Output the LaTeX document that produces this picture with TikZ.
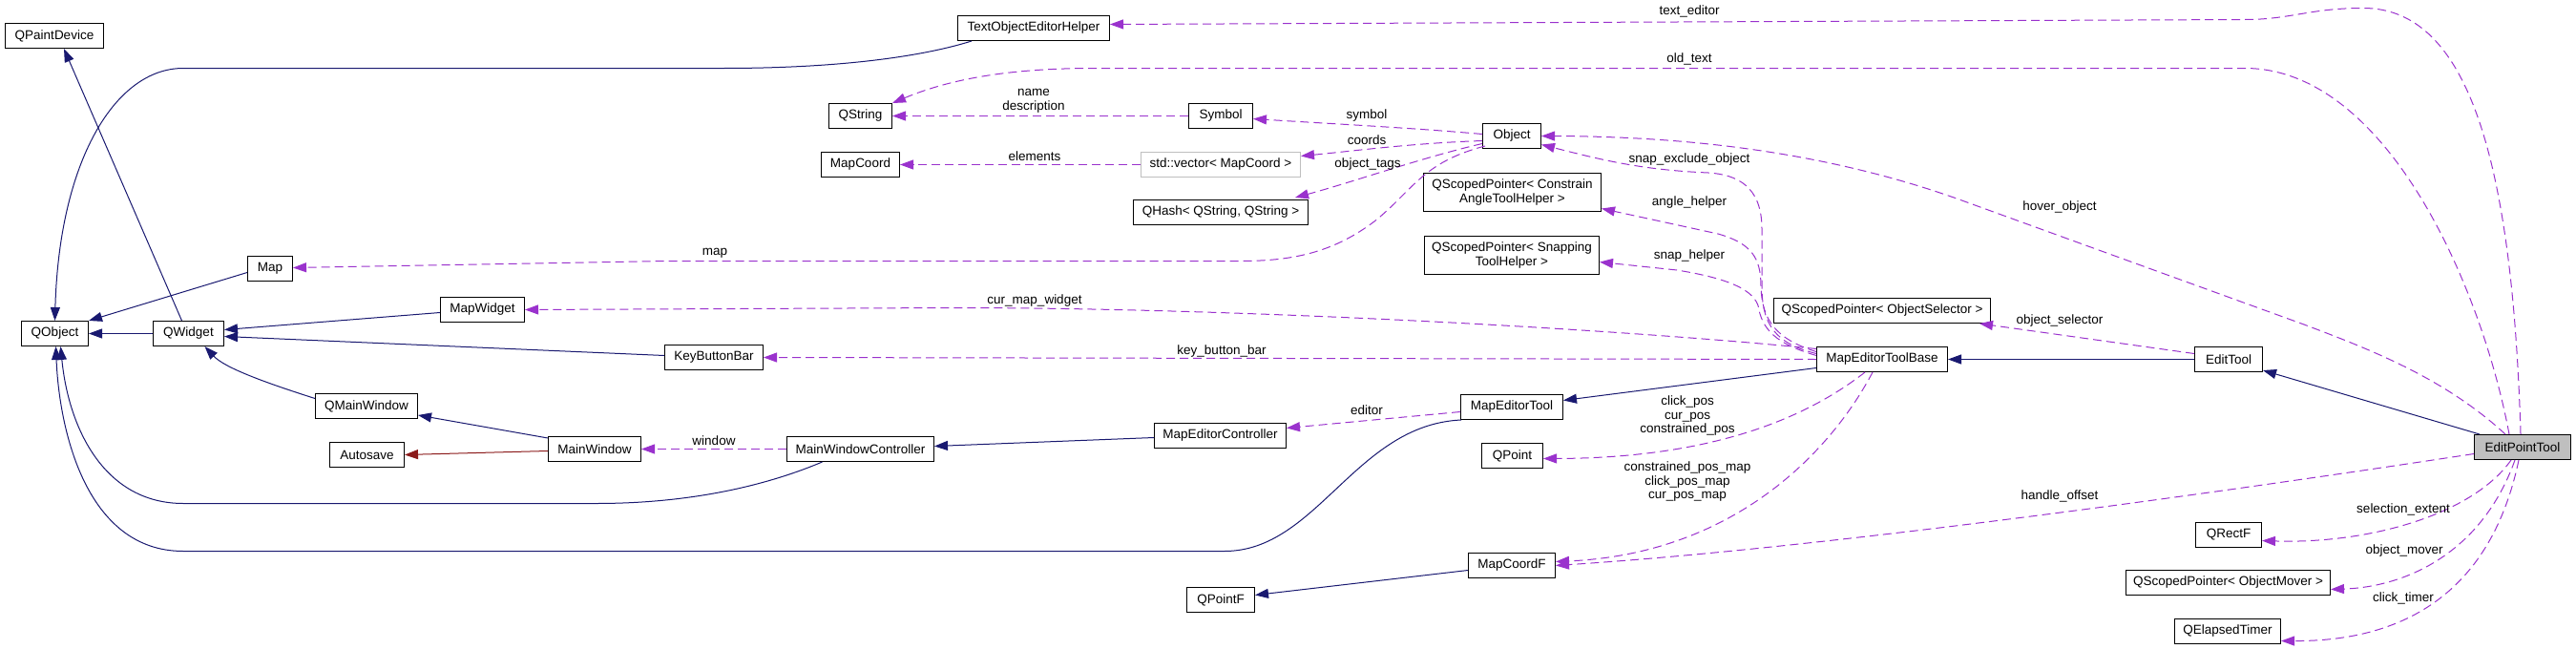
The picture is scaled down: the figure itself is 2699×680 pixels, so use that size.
\documentclass[tikz,border=0pt]{standalone}
\usepackage{fontspec}
\setmainfont{Liberation Sans}
\usetikzlibrary{arrows.meta,calc}
\definecolor{inhblue}{HTML}{191970}
\definecolor{usepurple}{HTML}{9A32CD}
\definecolor{privred}{HTML}{8B1A1A}
\definecolor{boxgray}{HTML}{BFBFBF}
\begin{document}
\begin{tikzpicture}[x=1pt,y=-1pt,
  every node/.style={font=\fontsize{13.5}{14.5}\selectfont},
  cls/.style={draw=black, line width=1pt, fill=white, inner sep=0pt, minimum height=26pt, align=center},
  inh/.style={draw=inhblue, line width=1pt, -{Triangle[length=14pt,width=10pt]}},
  priv/.style={draw=privred, line width=1pt, -{Triangle[length=14pt,width=10pt]}},
  use/.style={draw=usepurple, line width=1pt, dash pattern=on 9pt off 5pt, -{Triangle[length=14pt,width=10pt]}},
  lbl/.style={inner sep=0pt, align=center}
]
\useasboundingbox (0,0) rectangle (2699,680);

% ---------- nodes ----------
\node[cls,minimum width=103pt] (QPaintDevice) at (57,37.5) {QPaintDevice};
\node[cls,minimum width=70pt] (QObject) at (57.5,349.5) {QObject};
\node[cls,minimum width=74pt] (QWidget) at (197.5,349.5) {QWidget};
\node[cls,minimum width=47pt] (Map) at (283,281.5) {Map};
\node[cls,minimum width=88pt] (MapWidget) at (505.5,324.5) {MapWidget};
\node[cls,minimum width=103pt] (KeyButtonBar) at (748,374.5) {KeyButtonBar};
\node[cls,minimum width=107pt] (QMainWindow) at (384,425.5) {QMainWindow};
\node[cls,minimum width=78pt] (Autosave) at (384.5,476.5) {Autosave};
\node[cls,minimum width=97pt] (MainWindow) at (623,470.5) {MainWindow};
\node[cls,minimum width=154pt] (MWC) at (901.5,470.5) {MainWindowController};
\node[cls,minimum width=159pt] (TOEH) at (1083,29.5) {TextObjectEditorHelper};
\node[cls,minimum width=66pt] (QString) at (901.5,121.5) {QString};
\node[cls,minimum width=82pt] (MapCoord) at (901.5,172.5) {MapCoord};
\node[cls,minimum width=67pt] (Symbol) at (1279,121.5) {Symbol};
\node[cls,draw=boxgray,minimum width=167pt] (Vector) at (1279,172.5) {std::vector< MapCoord >};
\node[cls,minimum width=183pt] (QHash) at (1279,222.5) {QHash< QString, QString >};
\node[cls,minimum width=138pt] (MEC) at (1278.5,456.5) {MapEditorController};
\node[cls,minimum width=71pt] (QPointF) at (1279,628.5) {QPointF};
\node[cls,minimum width=61pt] (Object) at (1584,142.5) {Object};
\node[cls,minimum width=186pt,minimum height=40pt] (Constrain) at (1584.5,201.5) {QScopedPointer< Constrain\\AngleToolHelper >};
\node[cls,minimum width=183pt,minimum height=40pt] (Snapping) at (1584,267.5) {QScopedPointer< Snapping\\ToolHelper >};
\node[cls,minimum width=107pt] (MET) at (1584,426.5) {MapEditorTool};
\node[cls,minimum width=64pt] (QPoint) at (1584.5,477.5) {QPoint};
\node[cls,minimum width=91pt] (MapCoordF) at (1584,592.5) {MapCoordF};
\node[cls,minimum width=227pt] (ObjSel) at (1972,325.5) {QScopedPointer< ObjectSelector >};
\node[cls,minimum width=137pt] (METB) at (1972,376.5) {MapEditorToolBase};
\node[cls,minimum width=71pt] (EditTool) at (2335,376.5) {EditTool};
\node[cls,minimum width=69pt] (QRectF) at (2335,560.5) {QRectF};
\node[cls,minimum width=214pt] (ObjMover) at (2334.5,610.5) {QScopedPointer< ObjectMover >};
\node[cls,minimum width=111pt] (Timer) at (2334,661.5) {QElapsedTimer};
\node[cls,fill=boxgray,minimum width=101pt] (EPT) at (2643,468.5) {EditPointTool};

% ---------- inheritance ----------
\draw[inh] (QWidget.west) -- (QObject.east);
\draw[inh] ($(QWidget.north)+(-7,0)$) -- ($(QPaintDevice.south)+(10,0)$);
\draw[inh] ($(Map.west)+(0,4)$) -- (QObject.north east);
\draw[inh] ($(TOEH.south)+(-65,0)$) .. controls (980,55) and (900,71.5) .. (758,71.5) -- (192,71.5)
  .. controls (120,71.5) and (62,170) .. (QObject.north);
\draw[inh] ($(MapWidget.west)+(0,3)$) -- ($(QWidget.east)+(0,-4)$);
\draw[inh] ($(KeyButtonBar.west)+(0,-2)$) -- ($(QWidget.east)+(0,3)$);
\draw[inh] ($(QMainWindow.west)+(0,-8)$) .. controls (275,400) and (235,385) .. ($(QWidget.south)+(17,0)$);
\draw[inh] ($(MainWindow.north west)+(0,2)$) -- ($(QMainWindow.south east)+(0,-4)$);
\draw[priv] ($(MainWindow.west)+(0,2)$) -- (Autosave.east);
\draw[inh] ($(MWC.south)+(-40,0)$) .. controls (800,510) and (720,527.5) .. (625,527.5) -- (192,527.5)
  .. controls (110,527.5) and (72,450) .. ($(QObject.south)+(6,0)$);
\draw[inh] ($(MET.south west)+(1,0)$) .. controls (1420,445) and (1380,577.5) .. (1283,577.5) -- (192,577.5)
  .. controls (90,577.5) and (62,450) .. ($(QObject.south)+(1,0)$);
\draw[inh] ($(MEC.west)+(0,2)$) -- ($(MWC.east)+(0,-3)$);
\draw[inh] ($(METB.west)+(0,9)$) -- ($(MET.east)+(0,-7)$);
\draw[inh] (EditTool.west) -- (METB.east);
\draw[inh] ($(EPT.north west)+(6,0)$) -- ($(EditTool.south east)+(0,-2)$);
\draw[inh] ($(MapCoordF.west)+(0,5)$) -- ($(QPointF.east)+(0,-5)$);

% ---------- usage ----------
\draw[use] ($(EPT.north)+(-2,0)$) .. controls (2632,150) and (2580,8.5) .. (2476,8.5)
  .. controls (2420,8.5) and (2400,20.5) .. (2352,20.5) -- ($(TOEH.east)+(0,-4)$);
\node[lbl] (lTextEditor) at (1770,12) {text\_editor};

\draw[use] ($(EPT.north)+(-14,0)$) .. controls (2600,300) and (2500,71.5) .. (2352,71.5) -- (1146,71.5)
  .. controls (1050,71.5) and (990,85) .. (QString.north east);
\node[lbl] (lOldText) at (1770,62) {old\_text};

\draw[use] (Symbol.west) -- (QString.east);
\node[lbl] (lName) at (1083,106) {name\\description};

\draw[use] ($(Object.west)+(0,-2)$) .. controls (1480,134) and (1400,130) .. ($(Symbol.east)+(0,3)$);
\node[lbl] (lSymbol) at (1432,121) {symbol};

\draw[use] ($(Object.west)+(0,5)$) .. controls (1480,150) and (1420,158) .. ($(Vector.east)+(0,-9)$);
\node[lbl] (lCoords) at (1432,147) {coords};

\draw[use] (Vector.west) -- (MapCoord.east);
\node[lbl] (lElements) at (1084,164) {elements};

\draw[use] ($(Object.west)+(0,8)$) .. controls (1490,165) and (1420,190) .. ($(QHash.north east)+(-14,-2)$);
\node[lbl] (lTags) at (1433,172) {object\_tags};

\draw[use] ($(Object.south west)+(3,-3)$) .. controls (1490,170) and (1480,200) .. (1440,232)
  .. controls (1400,262) and (1360,273.5) .. (1300,273.5) -- (700,273.5) -- ($(Map.east)+(0,-1)$);
\node[lbl] (lMap) at (749,265) {map};

\draw[use] ($(METB.west)+(0,-11)$) .. controls (1700,345) and (1300,322.5) .. (1000,322.5) -- (MapWidget.east);
\node[lbl] (lCurMapWidget) at (1084,315) {cur\_map\_widget};

\draw[use] (METB.west) -- (KeyButtonBar.east);
\node[lbl] (lKeyButtonBar) at (1280,368) {key\_button\_bar};

\draw[use] ($(METB.west)+(0,-6)$) .. controls (1860,360) and (1846,340) .. (1846,300) -- (1846,240)
  .. controls (1846,195) and (1820,183) .. (1790,181) .. controls (1720,178) and (1680,168) .. ($(Object.east)+(0,9)$);
\node[lbl] (lSnapExclude) at (1770,167) {snap\_exclude\_object};

\draw[use] ($(EPT.north)+(-18,0)$) .. controls (2560,395) and (2480,365) .. (2414,340) -- (2050,208)
  .. controls (1900,155) and (1750,143) .. (Object.east);
\node[lbl] (lHover) at (2158,217) {hover\_object};

\draw[use] ($(METB.west)+(0,-8)$) .. controls (1860,355) and (1846,335) .. (1845,300)
  .. controls (1845,270) and (1835,255) .. (1800,245) -- ($(Constrain.east)+(0,17)$);
\node[lbl] (lAngle) at (1770,212) {angle\_helper};

\draw[use] ($(METB.west)+(0,-4)$) .. controls (1860,360) and (1846,345) .. (1842,320)
  .. controls (1835,300) and (1800,290) .. (1757,283) -- ($(Snapping.east)+(0,7)$);
\node[lbl] (lSnap) at (1770,268) {snap\_helper};

\draw[use] ($(EditTool.west)+(0,-6)$) -- ($(ObjSel.south east)+(-12,0)$);
\node[lbl] (lObjSel) at (2158,336) {object\_selector};

\draw[use] ($(MET.west)+(0,5)$) -- ($(MEC.east)+(0,-8)$);
\node[lbl] (lEditor) at (1432,430) {editor};

\draw[use] (MWC.west) -- (MainWindow.east);
\node[lbl] (lWindow) at (748,462) {window};

\draw[use] ($(METB.south)+(-18,0)$) .. controls (1890,440) and (1790,480) .. ($(QPoint.east)+(0,3)$);
\node[lbl] (lPos) at (1768,436) {click\_pos\\cur\_pos\\constrained\_pos};

\draw[use] ($(METB.south)+(-10,0)$) .. controls (1920,470) and (1820,580) .. ($(MapCoordF.east)+(0,-4)$);
\node[lbl] (lPosMap) at (1768,505) {constrained\_pos\_map\\click\_pos\_map\\cur\_pos\_map};

\draw[use] ($(EPT.west)+(0,7)$) .. controls (2300,520) and (1900,575) .. (MapCoordF.east);
\node[lbl] (lHandle) at (2158,520) {handle\_offset};

\draw[use] ($(EPT.south)+(-12,0)$) .. controls (2590,540) and (2480,570) .. ($(QRectF.east)+(0,6)$);
\node[lbl] (lSel) at (2518,534) {selection\_extent};

\draw[use] ($(EPT.south)+(-8,0)$) .. controls (2600,580) and (2520,615) .. ($(ObjMover.east)+(0,7)$);
\node[lbl] (lMover) at (2519,577) {object\_mover};

\draw[use] ($(EPT.south)+(-4,0)$) .. controls (2610,620) and (2520,672) .. ($(Timer.east)+(0,10)$);
\node[lbl] (lTimer) at (2518,627) {click\_timer};
\end{tikzpicture}
\end{document}
